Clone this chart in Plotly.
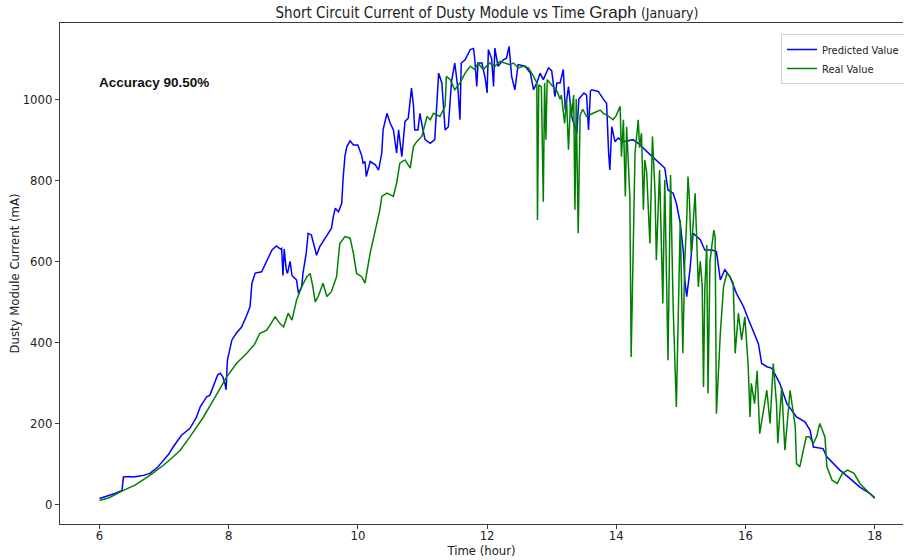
import plotly.graph_objects as go

# Predicted short-circuit current (mA) against hour of day
pred_time = [
    6.00, 6.08, 6.16, 6.25, 6.35, 6.37, 6.45, 6.52, 6.60, 6.68, 6.78, 6.90, 6.99, 7.07, 7.14,
    7.27, 7.40, 7.50, 7.56, 7.66, 7.71, 7.79, 7.83, 7.87, 7.91, 7.94, 7.96, 7.98, 8.05, 8.12,
    8.20, 8.28, 8.33, 8.36, 8.41, 8.51, 8.59, 8.67, 8.74, 8.80, 8.82, 8.84, 8.86, 8.89, 8.91,
    8.95, 8.98, 9.00, 9.05, 9.08, 9.13, 9.15, 9.20, 9.23, 9.28, 9.34, 9.36, 9.41, 9.49, 9.59,
    9.62, 9.65, 9.70, 9.75, 9.77, 9.80, 9.83, 9.88, 9.93, 10.00, 10.06, 10.08, 10.11, 10.13, 10.19,
    10.27, 10.32, 10.37, 10.39, 10.45, 10.50, 10.55, 10.60, 10.63, 10.68, 10.73, 10.78, 10.83, 10.86, 10.88,
    10.93, 10.96, 11.00, 11.04, 11.12, 11.19, 11.25, 11.30, 11.35, 11.40, 11.45, 11.50, 11.55, 11.58, 11.60,
    11.66, 11.74, 11.79, 11.81, 11.84, 11.86, 11.92, 11.97, 12.00, 12.02, 12.07, 12.10, 12.12, 12.17, 12.25,
    12.30, 12.34, 12.38, 12.43, 12.48, 12.59, 12.67, 12.72, 12.77, 12.82, 12.87, 12.95, 13.00, 13.05, 13.08,
    13.13, 13.18, 13.21, 13.26, 13.31, 13.39, 13.42, 13.50, 13.54, 13.57, 13.60, 13.62, 13.72, 13.80, 13.85,
    13.88, 13.90, 13.93, 13.98, 14.03, 14.11, 14.26, 14.34, 14.47, 14.62, 14.75, 14.80, 14.88, 14.93, 14.99,
    15.04, 15.06, 15.09, 15.14, 15.19, 15.30, 15.37, 15.48, 15.55, 15.61, 15.68, 15.76, 15.86, 15.97, 16.04,
    16.12, 16.20, 16.25, 16.33, 16.41, 16.48, 16.53, 16.64, 16.71, 16.79, 16.92, 17.00, 17.05, 17.20, 17.26,
    17.34, 17.46, 17.62, 17.77, 17.93, 18.00,
]
pred_current = [
    15, 19, 23, 28, 35, 68, 69, 68, 70, 72, 77, 92, 109, 124, 142,
    171, 188, 215, 241, 266, 270, 307, 320, 324, 315, 300, 283, 356, 406, 423,
    438, 467, 488, 546, 571, 574, 603, 628, 638, 630, 632, 565, 630, 580, 570,
    600, 565, 562, 554, 521, 537, 570, 620, 669, 665, 628, 615, 636, 657, 681,
    710, 731, 722, 743, 801, 860, 883, 897, 887, 887, 860, 842, 846, 809, 846,
    838, 825, 867, 924, 965, 941, 924, 867, 924, 858, 945, 953, 1027, 985, 924,
    924, 965, 930, 900, 891, 900, 1064, 1040, 924, 932, 1044, 1089, 1023, 949, 1089,
    1097, 1122, 1125, 1097, 1031, 1089, 1089, 1052, 1015, 1122, 1100, 1031, 1126, 1081, 1097,
    1101, 1130, 1056, 1023, 1085, 1081, 1064, 1023, 1040, 1064, 1048, 1077, 1070, 1006, 1040,
    1040, 1073, 973, 1031, 957, 916, 1000, 1015, 1010, 924, 1020, 1023, 1019, 1000, 990,
    871, 825, 932, 895, 904, 895, 900, 891, 871, 850, 830, 776, 768, 743, 694,
    620, 554, 513, 579, 669, 653, 628, 628, 624, 554, 579, 562, 521, 488, 459,
    430, 397, 348, 340, 336, 315, 299, 249, 233, 216, 204, 183, 142, 138, 118,
    105, 85, 64, 43, 27, 17,
]

# Measured short-circuit current (mA) of the dusty module
real_time = [
    6.00, 6.15, 6.37, 6.55, 6.78, 6.99, 7.12, 7.25, 7.40, 7.50, 7.61, 7.76, 7.92, 7.97, 8.12,
    8.28, 8.40, 8.48, 8.59, 8.65, 8.72, 8.79, 8.85, 8.92, 8.98, 9.05, 9.13, 9.21, 9.26, 9.30,
    9.34, 9.39, 9.46, 9.52, 9.59, 9.67, 9.72, 9.80, 9.88, 9.93, 9.98, 10.06, 10.11, 10.19, 10.27,
    10.34, 10.37, 10.45, 10.55, 10.60, 10.65, 10.73, 10.81, 10.86, 10.91, 10.99, 11.07, 11.12, 11.17, 11.27,
    11.35, 11.37, 11.43, 11.50, 11.58, 11.66, 11.74, 11.81, 11.86, 11.94, 12.04, 12.12, 12.20, 12.28, 12.35,
    12.41, 12.48, 12.56, 12.64, 12.72, 12.77, 12.78, 12.80, 12.84, 12.87, 12.89, 12.91, 12.93, 12.97, 13.02,
    13.08, 13.13, 13.15, 13.20, 13.23, 13.26, 13.29, 13.31, 13.34, 13.36, 13.38, 13.41, 13.44, 13.48, 13.54,
    13.64, 13.75, 13.80, 13.85, 13.95, 14.00, 14.06, 14.08, 14.11, 14.14, 14.16, 14.18, 14.21, 14.23, 14.25,
    14.29, 14.34, 14.36, 14.39, 14.42, 14.44, 14.47, 14.52, 14.56, 14.60, 14.62, 14.67, 14.72, 14.75, 14.80,
    14.84, 14.88, 14.93, 14.99, 15.03, 15.06, 15.09, 15.11, 15.13, 15.16, 15.22, 15.27, 15.30, 15.33, 15.35,
    15.37, 15.40, 15.42, 15.45, 15.51, 15.53, 15.55, 15.61, 15.66, 15.71, 15.76, 15.81, 15.84, 15.89, 15.94,
    15.99, 16.04, 16.07, 16.09, 16.14, 16.18, 16.22, 16.28, 16.33, 16.38, 16.43, 16.48, 16.50, 16.56, 16.61,
    16.69, 16.77, 16.79, 16.84, 16.94, 16.99, 17.05, 17.10, 17.15, 17.23, 17.26, 17.34, 17.42, 17.50, 17.58,
    17.68, 17.77, 17.90, 18.00,
]
real_current = [
    10, 17, 35, 48, 72, 97, 115, 134, 167, 190, 216, 257, 299, 315, 348,
    373, 395, 422, 430, 445, 463, 447, 438, 472, 455, 504, 537, 562, 570, 540,
    500, 515, 546, 513, 525, 562, 644, 661, 657, 620, 570, 562, 546, 620, 677,
    727, 760, 768, 760, 793, 842, 850, 830, 883, 895, 908, 957, 949, 965, 957,
    982, 1056, 1048, 1023, 1040, 1064, 1081, 1073, 1089, 1073, 1089, 1081, 1093, 1089, 1085,
    1089, 1077, 1081, 1077, 1056, 1040, 702, 1035, 1030, 747, 1040, 900, 1048, 1040, 1030,
    1020, 1000, 1010, 940, 1000, 875, 990, 960, 1010, 727, 1000, 669, 960, 975, 957,
    965, 973, 965, 961, 949, 960, 982, 858, 949, 760, 932, 875, 760, 364, 560,
    867, 949, 880, 916, 727, 850, 820, 644, 908, 768, 603, 825, 496, 801, 356,
    813, 488, 241, 702, 373, 600, 702, 809, 760, 620, 768, 537, 600, 540, 290,
    529, 640, 274, 600, 677, 660, 224, 422, 537, 570, 562, 546, 373, 472, 406,
    463, 348, 216, 299, 249, 330, 175, 230, 282, 200, 348, 249, 151, 290, 134,
    282, 192, 101, 93, 167, 167, 151, 167, 200, 167, 93, 60, 52, 77, 85,
    77, 52, 31, 15,
]

x_ticks = [6, 8, 10, 12, 14, 16, 18]
y_ticks = [0, 200, 400, 600, 800, 1000]

TEXT_FONT = "Liberation Sans Narrow, DejaVu Sans Condensed, DejaVu Sans, sans-serif"
AXIS_COLOR = "#3c3c3c"

fig = go.Figure()
fig.add_trace(go.Scatter(
    x=pred_time, y=pred_current, mode="lines", name="Predicted Value",
    line=dict(color="#0000ff", width=1.5),
))
fig.add_trace(go.Scatter(
    x=real_time, y=real_current, mode="lines", name="Real Value",
    line=dict(color="#008000", width=1.5),
))

fig.add_annotation(
    text="<b>Accuracy 90.50%</b>",
    xref="paper", yref="paper", x=(97 - 60) / 843, y=1 - (82 - 23) / 501,
    xanchor="left", yanchor="middle", showarrow=False,
    font=dict(family="Liberation Sans, Arial, sans-serif", size=13.5, color="#111111"),
)

fig.update_layout(
    width=904, height=560,
    margin=dict(l=60, r=1, t=23, b=36, autoexpand=False),
    paper_bgcolor="white", plot_bgcolor="white",
    title=dict(
        text=("Short Circuit Current of Dusty Module vs Time "
              "<span style='font-family:Liberation Sans, Arial; font-size:17px'>Graph</span>"
              " <span style='font-size:14px'>(January)</span>"),
        x=487 / 904, xanchor="center", y=1 - 13 / 560, yanchor="middle",
        font=dict(family=TEXT_FONT, size=15, color="#222222"),
    ),
    showlegend=True,
    legend=dict(
        x=(781 - 60) / 843, y=1 - (34 - 23) / 501, xanchor="left", yanchor="top",
        bgcolor="rgba(255,255,255,0.85)", bordercolor="#d0d0d0", borderwidth=1,
        font=dict(family=TEXT_FONT, size=11, color="#222222"),
        itemwidth=30, tracegroupgap=0,
    ),
    xaxis=dict(
        range=[5.389, 18.438], tickvals=x_ticks, ticktext=[str(v) for v in x_ticks],
        showgrid=False, zeroline=False, showline=True, linecolor=AXIS_COLOR, linewidth=1,
        mirror=True, ticks="outside", ticklen=4, tickcolor=AXIS_COLOR,
        ticklabelstandoff=-5,
        tickfont=dict(family=TEXT_FONT, size=13, color="#222222"),
        title=dict(text="Time (hour)", standoff=0,
                   font=dict(family=TEXT_FONT, size=13, color="#222222")),
    ),
    yaxis=dict(
        range=[-47.9, 1187.7], tickvals=y_ticks, ticktext=[str(v) for v in y_ticks],
        showgrid=False, zeroline=False, showline=True, linecolor=AXIS_COLOR, linewidth=1,
        mirror=False, ticks="outside", ticklen=4, tickcolor=AXIS_COLOR,
        tickfont=dict(family=TEXT_FONT, size=13, color="#222222"),
        title=dict(text="Dusty Module Current (mA)", standoff=0,
                   font=dict(family=TEXT_FONT, size=13, color="#222222")),
    ),
)

fig.write_html("out.html")
